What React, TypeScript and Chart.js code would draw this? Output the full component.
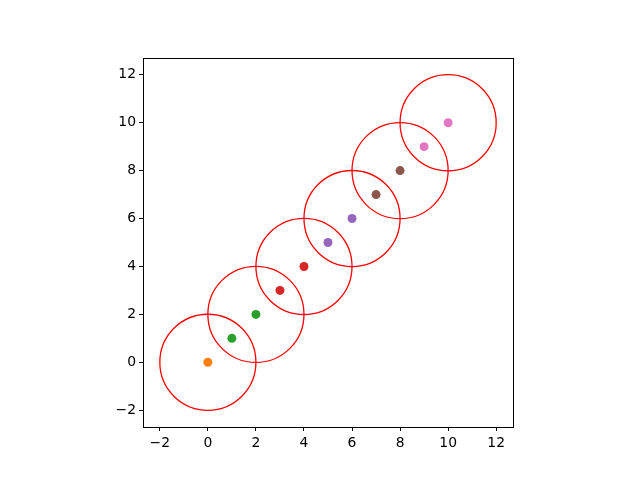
import React, { useEffect, useRef } from "react";
import { Chart, registerables } from "chart.js";

Chart.register(...registerables);

const pointX = [0, 1, 2, 3, 4, 5, 6, 7, 8, 9, 10];
const pointY = [0, 1, 2, 3, 4, 5, 6, 7, 8, 9, 10];
const pointColors = [
  "#ff7f0e", "#2ca02c", "#2ca02c", "#d62728", "#d62728",
  "#9467bd", "#9467bd", "#8c564b", "#8c564b", "#e377c2", "#e377c2",
];
const circleX = [0, 2, 4, 6, 8, 10];
const circleY = [0, 2, 4, 6, 8, 10];
const circleRadius = 2;
const xTicks = [-2, 0, 2, 4, 6, 8, 10, 12];
const yTicks = [-2, 0, 2, 4, 6, 8, 10, 12];
const axisMin = -2.7;
const axisMax = 12.7;

const circlesPlugin = {
  id: "circles",
  afterDatasetsDraw(chart: any) {
    const { ctx, chartArea, scales } = chart;
    const xs = scales.x;
    const ys = scales.y;
    ctx.save();
    ctx.beginPath();
    ctx.rect(chartArea.left, chartArea.top, chartArea.right - chartArea.left, chartArea.bottom - chartArea.top);
    ctx.clip();
    ctx.strokeStyle = "#ff0000";
    ctx.lineWidth = 1.3;
    for (let i = 0; i < circleX.length; i++) {
      const cx = xs.getPixelForValue(circleX[i]);
      const cy = ys.getPixelForValue(circleY[i]);
      const r = Math.abs(xs.getPixelForValue(circleX[i] + circleRadius) - cx);
      ctx.beginPath();
      ctx.arc(cx, cy, r, 0, Math.PI * 2);
      ctx.stroke();
    }
    ctx.restore();
    // spines
    ctx.save();
    ctx.strokeStyle = "#000";
    ctx.lineWidth = 1;
    ctx.strokeRect(
      Math.round(chartArea.left) + 0.5,
      Math.round(chartArea.top) + 0.5,
      Math.round(chartArea.right - chartArea.left),
      Math.round(chartArea.bottom - chartArea.top)
    );
    ctx.restore();
  },
};

const fmt = (v: number) => String(v).replace("-", "\u2212");

export default function App() {
  const ref = useRef<HTMLCanvasElement>(null);
  useEffect(() => {
    if (!ref.current) return;
    const font = { family: "DejaVu Sans", size: 13.9 };
    const chart = new Chart(ref.current, {
      type: "scatter",
      data: {
        datasets: [
          {
            data: pointX.map((x, i) => ({ x, y: pointY[i] })),
            pointBackgroundColor: pointColors,
            pointBorderColor: pointColors,
            pointRadius: 4.5,
            pointBorderWidth: 0,
          },
        ],
      },
      options: {
        responsive: false,
        animation: false,
        events: [],
        layout: { padding: { left: 0, top: 58, right: 127, bottom: 0 } },
        plugins: { legend: { display: false }, tooltip: { enabled: false } },
        scales: {
          x: {
            type: "linear",
            min: axisMin,
            max: axisMax,
            afterFit(scale: any) { scale.height = 53; },
            afterBuildTicks(scale: any) { scale.ticks = xTicks.map((v) => ({ value: v })); },
            grid: { drawOnChartArea: false, drawTicks: true, tickLength: 4, color: "#000" },
            border: { display: false },
            ticks: { color: "#000", font, padding: 4, maxRotation: 0, callback: (v: any) => fmt(v) },
          },
          y: {
            type: "linear",
            min: axisMin,
            max: axisMax,
            afterFit(scale: any) { scale.width = 143; },
            afterBuildTicks(scale: any) { scale.ticks = yTicks.map((v) => ({ value: v })); },
            grid: { drawOnChartArea: false, drawTicks: true, tickLength: 4, color: "#000" },
            border: { display: false },
            ticks: { color: "#000", font, padding: 3, callback: (v: any) => fmt(v) },
          },
        },
      },
      plugins: [circlesPlugin],
    });
    return () => chart.destroy();
  }, []);
  return (
    <div style={{ position: "absolute", left: 0, top: 0, width: 640, height: 480, background: "#fff" }}>
      <canvas ref={ref} width={640} height={480} />
    </div>
  );
}
